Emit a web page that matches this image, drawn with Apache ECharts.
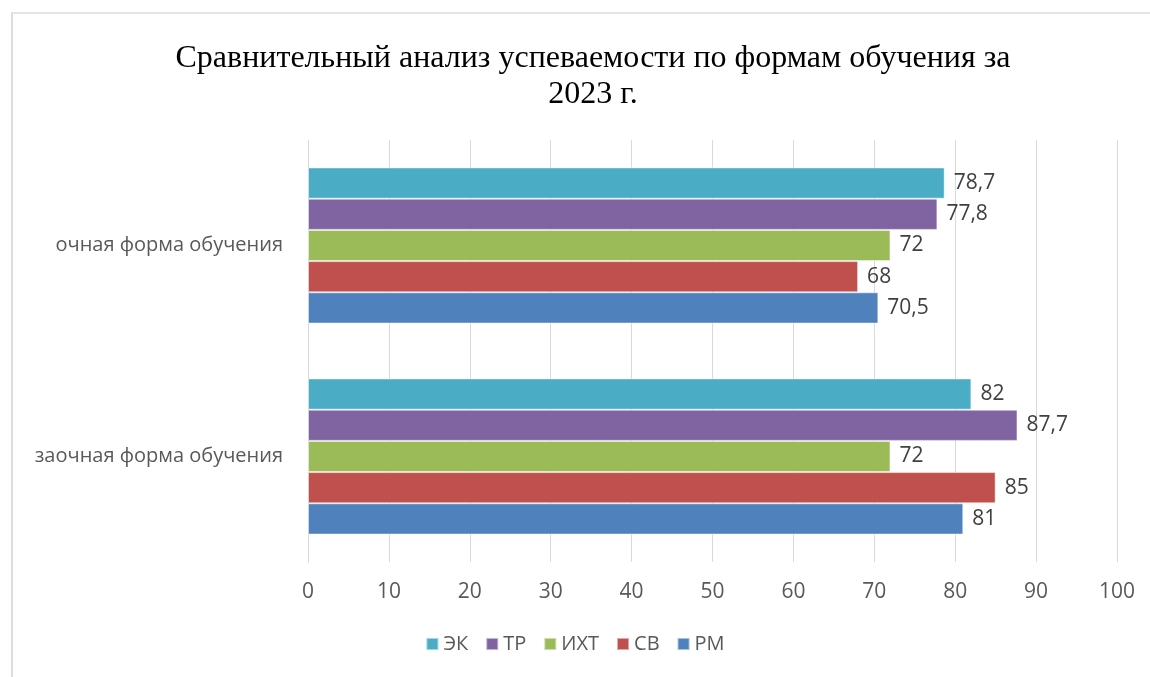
<!DOCTYPE html>
<html>
<head>
<meta charset="utf-8">
<script src="https://cdn.jsdelivr.net/npm/echarts@6/dist/echarts.min.js"></script>
<style>
    html, body {margin: 0; padding: 0; background: #fff;}
    #frame {position: absolute; left: 11px; top: 12px; right: 0; bottom: 0; border-left: 2px solid #dcdcdc; border-top: 2px solid #e4e4e4;}
    #chart {position: absolute; left: 0; top: 0; width: 1150px; height: 677px;}
</style>
</head>
<body>
<div id="frame"></div>
<div id="chart"></div>
<script>
    const categories = ['очная форма обучения', 'заочная форма обучения']
    const seriesNames = ['ЭК', 'ТР', 'ИХТ', 'СВ', 'РМ']
    const valuesEK = [78.7, 82]
    const valuesTR = [77.8, 87.7]
    const valuesIHT = [72, 72]
    const valuesSV = [68, 85]
    const valuesRM = [70.5, 81]
    const colors = ['#4bacc6', '#8064a2', '#9bbb59', '#c0504d', '#4f81bd']
    const allValues = [valuesEK, valuesTR, valuesIHT, valuesSV, valuesRM]

    const font = '"Open Sans", "Noto Sans", sans-serif'

    const series = []
    for (let i = 0; i < seriesNames.length; i++) {
        series.push({
            name: seriesNames[i],
            type: 'bar',
            barGap: '0%',
            barCategoryGap: '26%',
            data: allValues[i],
            itemStyle: {color: colors[i], borderColor: 'rgba(255,255,255,0.5)', borderWidth: 1},
            label: {
                show: true,
                position: 'right',
                distance: 9,
                color: '#404040',
                fontSize: 21,
                fontFamily: font,
                formatter(p) {
                    return String(p.value).replace('.', ',')
                }
            }
        })
    }

    const myChart = echarts.init(document.getElementById('chart'))
    myChart.setOption({
        animation: false,
        color: colors,
        title: {
            text: 'Сравнительный анализ успеваемости по формам обучения за\n2023 г.',
            left: 588,
            textAlign: 'center',
            top: 36,
            textStyle: {
                fontFamily: '"Liberation Serif", "DejaVu Serif", serif',
                fontSize: 32,
                fontWeight: 'normal',
                color: '#000',
                lineHeight: 36
            }
        },
        legend: {
            bottom: 18,
            left: 'center',
            itemWidth: 12,
            itemHeight: 12,
            itemGap: 17,
            icon: 'rect',
            textStyle: {color: '#595959', fontSize: 20, fontFamily: font}
        },
        grid: {left: 308, right: 33, top: 140, bottom: 115},
        xAxis: {
            type: 'value',
            min: 0,
            max: 100,
            interval: 10,
            axisLine: {show: false},
            axisTick: {show: false},
            axisLabel: {color: '#595959', fontSize: 21, fontFamily: font, margin: 20},
            splitLine: {lineStyle: {color: '#d9d9d9', width: 1}}
        },
        yAxis: {
            type: 'category',
            inverse: true,
            data: categories,
            axisLine: {show: true, lineStyle: {color: '#d9d9d9'}},
            axisTick: {show: false},
            axisLabel: {color: '#595959', fontSize: 20, fontFamily: font, margin: 25}
        },
        series: series
    })
</script>
</body>
</html>
